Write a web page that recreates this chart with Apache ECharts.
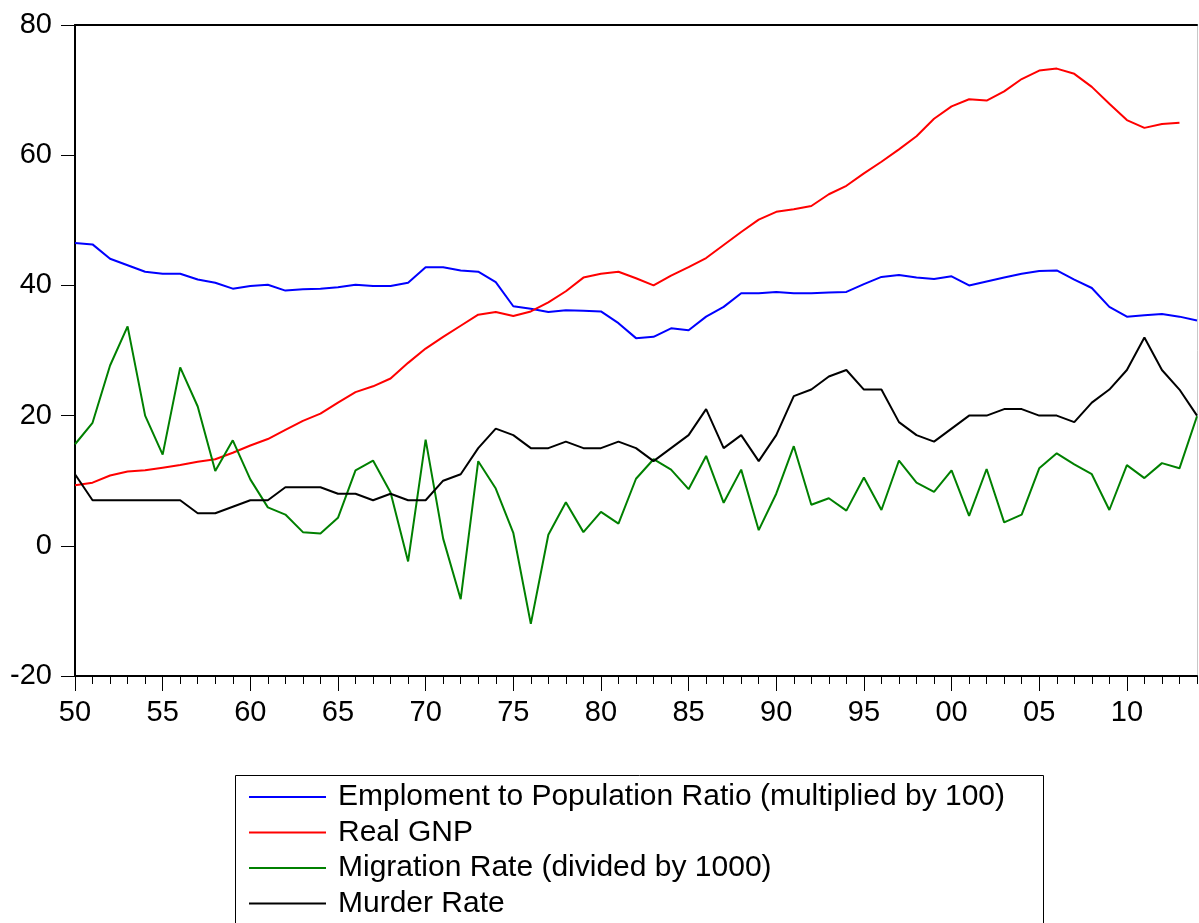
<!DOCTYPE html>
<html>
<head>
<meta charset="utf-8">
<script src="https://cdn.jsdelivr.net/npm/echarts@6/dist/echarts.min.js"></script>
<style>
  html, body { margin: 0; padding: 0; background: #fff; }
  #chart { width: 1199px; height: 923px; }
</style>
</head>
<body>
<div id="chart"></div>
<script>
// years 1950..2014
const years = []
for (let y = 1950; y <= 2014; y++) years.push(y)

const employment = [
  46.5, 46.3, 44.1, 43.1, 42.1, 41.8, 41.8, 40.9, 40.4, 39.5,
  39.9, 40.1, 39.2, 39.4, 39.5, 39.7, 40.1, 39.9, 39.9, 40.4,
  42.8, 42.8, 42.3, 42.1, 40.5, 36.8, 36.4, 35.9, 36.2, 36.1,
  36.0, 34.2, 31.9, 32.1, 33.4, 33.1, 35.2, 36.7, 38.8, 38.8,
  39.0, 38.8, 38.8, 38.9, 39.0, 40.2, 41.3, 41.6, 41.2, 41.0,
  41.4, 40.0, 40.6, 41.2, 41.8, 42.2, 42.3, 40.9, 39.6, 36.7,
  35.2, 35.4, 35.6, 35.2, 34.6
]

// no value for 2014
const realGnp = [
  9.3, 9.7, 10.8, 11.4, 11.6, 12.0, 12.4, 12.9, 13.3, 14.3,
  15.4, 16.4, 17.8, 19.2, 20.3, 22.0, 23.6, 24.5, 25.7, 28.1,
  30.3, 32.1, 33.8, 35.5, 35.9, 35.3, 36.0, 37.4, 39.1, 41.2,
  41.8, 42.1, 41.1, 40.0, 41.5, 42.8, 44.2, 46.2, 48.2, 50.1,
  51.3, 51.7, 52.2, 54.0, 55.3, 57.2, 59.0, 60.9, 62.9, 65.6,
  67.5, 68.6, 68.4, 69.8, 71.7, 73.0, 73.3, 72.5, 70.5, 67.9,
  65.4, 64.2, 64.8, 65.0, null
]

const migration = [
  15.6, 18.9, 27.7, 33.7, 20.0, 14.0, 27.4, 21.4, 11.5, 16.2,
  10.2, 5.9, 4.8, 2.1, 1.9, 4.3, 11.6, 13.1, 8.2, -2.4,
  16.3, 1.1, -8.2, 13.0, 8.8, 2.0, -12.0, 1.7, 6.7, 2.1,
  5.2, 3.4, 10.3, 13.3, 11.7, 8.7, 13.8, 6.6, 11.7, 2.4,
  8.0, 15.3, 6.3, 7.3, 5.4, 10.5, 5.5, 13.1, 9.7, 8.3,
  11.6, 4.6, 11.8, 3.6, 4.8, 11.9, 14.2, 12.5, 11.0, 5.5,
  12.4, 10.4, 12.7, 11.9, 19.9
]

const murder = [
  11, 7, 7, 7, 7, 7, 7, 5, 5, 6,
  7, 7, 9, 9, 9, 8, 8, 7, 8, 7,
  7, 10, 11, 15, 18, 17, 15, 15, 16, 15,
  15, 16, 15, 13, 15, 17, 21, 15, 17, 13,
  17, 23, 24, 26, 27, 24, 24, 19, 17, 16,
  18, 20, 20, 21, 21, 20, 20, 19, 22, 24,
  27, 32, 27, 24, 20
]

const seriesNames = [
  'Emploment to Population Ratio (multiplied by 100)',
  'Real GNP',
  'Migration Rate (divided by 1000)',
  'Murder Rate'
]
const seriesColors = ['#0000ff', '#ff0000', '#008000', '#000000']
const seriesValues = [employment, realGnp, migration, murder]

const font = 'Arial, "Liberation Sans", sans-serif'

const chart = echarts.init(document.getElementById('chart'))

const option = {
  animation: false,
  backgroundColor: '#fff',
  grid: { left: 75, right: 2, top: 25, bottom: 247 },
  // legend frame runs off the bottom of the picture, like the original
  graphic: [
    {
      type: 'rect',
      left: 233,
      top: 773,
      shape: { width: 808, height: 200 },
      style: { fill: 'none', stroke: '#000', lineWidth: 1 },
      silent: true
    }
  ],
  legend: {
    orient: 'vertical',
    left: 233,
    top: 773,
    data: seriesNames,
    icon: 'rect',
    itemWidth: 77,
    itemHeight: 2,
    itemGap: 3.5,
    padding: [8, 21, 0, 16],
    textStyle: {
      fontFamily: font,
      fontSize: 30,
      lineHeight: 32,
      color: '#000',
      padding: [0, 0, 0, 7]
    }
  },
  xAxis: [
    {
      // yearly minor ticks
      type: 'value',
      min: 1950,
      max: 2014,
      interval: 1,
      position: 'bottom',
      axisLine: { show: true, onZero: false, lineStyle: { color: '#000', width: 2 } },
      axisTick: { show: true, length: 8, lineStyle: { color: '#000', width: 1 } },
      axisLabel: { show: false },
      splitLine: { show: false }
    },
    {
      // five-year major ticks and labels
      type: 'value',
      min: 1950,
      max: 2014,
      interval: 5,
      position: 'bottom',
      axisLine: { show: false, onZero: false },
      axisTick: { show: true, length: 15, lineStyle: { color: '#000', width: 1 } },
      axisLabel: {
        margin: 22,
        fontFamily: font,
        fontSize: 29,
        color: '#000',
        showMaxLabel: false,
        formatter: (v) => String(v % 100).padStart(2, '0')
      },
      splitLine: { show: false }
    },
    {
      // top border
      type: 'value',
      min: 1950,
      max: 2014,
      position: 'top',
      axisLine: { show: true, onZero: false, lineStyle: { color: '#000', width: 2 } },
      axisTick: { show: false },
      axisLabel: { show: false },
      splitLine: { show: false }
    }
  ],
  yAxis: [
    {
      type: 'value',
      min: -20,
      max: 80,
      interval: 20,
      position: 'left',
      axisLine: { show: true, onZero: false, lineStyle: { color: '#000', width: 2 } },
      axisTick: { show: true, length: 14, lineStyle: { color: '#000', width: 1 } },
      axisLabel: { margin: 23, fontFamily: font, fontSize: 29, color: '#000' },
      splitLine: { show: false }
    },
    {
      // right border
      type: 'value',
      min: -20,
      max: 80,
      position: 'right',
      axisLine: { show: true, onZero: false, lineStyle: { color: '#c8c8c8', width: 1 } },
      axisTick: { show: false },
      axisLabel: { show: false },
      splitLine: { show: false }
    }
  ],
  series: seriesNames.map((name, i) => ({
    name: name,
    type: 'line',
    xAxisIndex: 0,
    yAxisIndex: 0,
    symbol: 'none',
    connectNulls: false,
    color: seriesColors[i],
    lineStyle: { color: seriesColors[i], width: 2 },
    data: years.map((yr, j) => [yr, seriesValues[i][j]])
  }))
}

chart.setOption(option)
</script>
</body>
</html>
